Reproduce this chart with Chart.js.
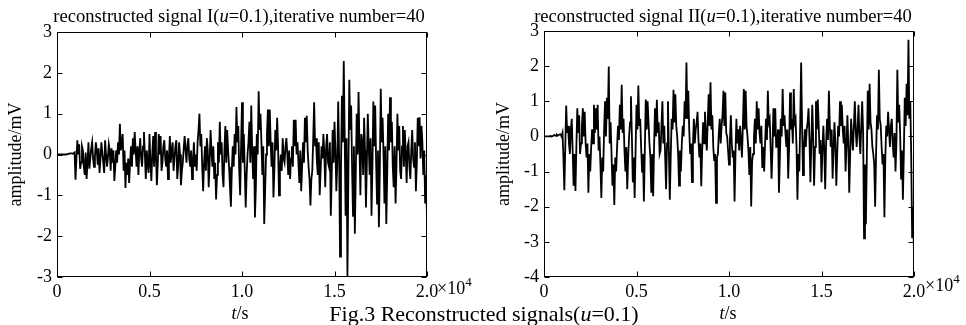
<!DOCTYPE html>
<html><head><meta charset="utf-8">
<script src="https://cdn.jsdelivr.net/npm/chart.js@4/dist/chart.umd.min.js"></script>
<style>
html,body{margin:0;padding:0;background:#fff;}
#wrap{position:relative;width:966px;height:325px;overflow:hidden;font-family:"Liberation Serif","Times New Roman",serif;color:#000;}
canvas{position:absolute;top:0;}
.t{position:absolute;white-space:nowrap;font-size:18.6px;line-height:18px;transform:translateX(-50%);}
.s{position:absolute;white-space:nowrap;font-size:18px;line-height:18px;}
sup{font-size:13px;vertical-align:0;position:relative;top:-8px;}
</style></head><body>
<div id="wrap">
<canvas id="c1" width="480" height="325" style="left:0"></canvas>
<canvas id="c2" width="483" height="325" style="left:483px"></canvas>
<div class="t" style="left:239px;top:7px">reconstructed signal I(<i>u</i>=0.1),iterative number=40</div>
<div class="t" style="left:723px;top:7px">reconstructed signal II(<i>u</i>=0.1),iterative number=40</div>
<div class="s" style="left:437px;top:279px">×10<sup>4</sup></div>
<div class="s" style="left:925px;top:276px">×10<sup>4</sup></div>
<div class="t" style="left:240px;top:304px;font-size:18px"><i>t</i>/s</div>
<div class="t" style="left:728px;top:304px;font-size:18px"><i>t</i>/s</div>
<div class="t" style="left:484px;top:303px;font-size:22px;line-height:22px">Fig.3 Reconstructed signals(<i>u</i>=0.1)</div>
</div>
<script>
// time step between samples (s)
const timeStep = 50;
const xTicks = [0, 5000, 10000, 15000, 20000];
const xTickLabels = ['0', '0.5', '1.0', '1.5', '2.0'];
const yTicksI = [-3, -2, -1, 0, 1, 2, 3];
const yTicksII = [-4, -3, -2, -1, 0, 1, 2, 3];

// reconstructed signal I (amplitude, mV), one value per 50 s
const signalI = [
 0,0,0,0,0,0,0,0,0,0,0,0.01,0.01,0.02,0.02,0.03,0.03,0.02,0.03,0.05,
 -0.62,-0.1,0.35,0.0,0.25,-0.35,-0.2,0.2,0.1,-0.3,-0.5,0.05,-0.6,-0.2,0.3,-0.35,-0.1,0.15,0.3,-0.1,
 -0.3,-0.05,0.3,0.1,-0.25,0.15,-0.45,-0.1,0.3,0.05,-0.2,-0.45,0.35,0.0,-0.3,-0.1,0.25,0.1,-0.4,0.15,
 -0.2,0.1,-0.65,-0.3,0.1,-0.2,0.3,0.0,0.75,0.1,0.3,0.5,-0.4,0.1,-0.82,-0.2,-0.5,-0.1,-0.7,-0.2,
 0.2,-0.3,0.4,0.0,0.55,0.1,-0.3,0.2,-0.5,0.1,0.4,-0.1,-0.3,0.2,0.55,0.0,-0.6,0.1,-0.2,-0.45,
 0.5,-0.2,-0.65,0.0,0.45,-0.3,0.55,0.0,-0.75,-0.2,0.5,0.0,0.45,-0.4,-0.2,0.2,0.35,-0.1,-0.3,0.1,
 -0.6,-0.1,0.45,-0.2,0.1,0.3,-0.4,-0.1,0.2,0.35,-0.6,-0.3,0.3,0.0,-0.75,-0.4,-0.2,0.15,0.45,0.1,
 -0.2,0.25,0.4,-0.1,-0.3,0.1,-0.6,-0.2,0.3,-0.3,0.0,-0.4,0.3,0.6,1.0,0.2,0.5,-0.3,-0.9,-0.2,
 0.2,-0.4,0.4,0.1,-0.8,-0.2,0.6,0.1,-0.3,0.2,-0.6,-0.2,-1.1,-0.5,0.3,-0.2,0.8,0.0,0.3,-0.5,
 -0.8,0.1,0.7,-0.2,0.6,0.1,-0.3,-0.8,-1.28,-0.4,0.2,-0.3,0.5,0.0,1.16,0.3,0.7,-0.4,-1.0,0.2,
 1.28,-0.2,0.5,-0.4,-1.3,-0.5,0.0,0.3,0.8,-0.2,1.2,0.1,-0.6,0.2,-1.54,-0.8,0.5,0.0,1.55,0.6,
 1.0,0.3,-0.5,0.2,-1.7,-0.9,0.0,0.5,1.1,0.2,1.1,0.3,-0.3,0.3,-1.05,-0.4,0.6,0.1,0.9,0.2,
 -1.0,-0.3,0.0,-0.4,0.4,-0.1,-0.2,0.2,0.4,0.0,-0.5,0.1,-0.6,-0.1,0.2,-0.3,0.85,0.2,0.85,0.0,
 0.3,-0.2,-0.7,0.1,-0.9,-0.3,0.3,-0.2,0.9,0.3,0.95,0.1,-0.3,-0.6,-1.25,-0.6,-0.4,0.4,1.28,0.2,
 0.4,-0.2,-0.5,0.3,-1.0,-0.4,0.2,-0.1,0.5,0.0,-0.8,0.2,0.5,-0.2,-0.3,0.3,-1.5,-0.5,0.6,-0.2,
 0.8,0.1,-0.9,-0.2,1.3,0.0,-2.5,-0.4,1.44,0.3,2.29,0.5,-1.5,0.4,-3.0,-0.5,1.83,0.6,1.2,-0.3,
 -1.5,0.2,-1.94,-0.5,1.0,0.0,1.53,0.2,-1.0,0.5,0.3,-0.5,0.9,0.1,-1.3,-0.2,1.0,0.2,-0.5,0.4,
 -1.5,-0.3,1.3,0.2,1.2,-0.2,-1.2,0.1,-1.78,-0.4,1.61,0.3,0.9,0.0,-1.2,0.2,-1.7,-0.5,1.0,0.1,
 1.4,0.3,0.8,-0.3,-0.8,0.2,-1.2,-0.3,1.0,0.1,0.7,-0.4,-0.6,0.2,0.7,-0.3,0.6,0.0,-0.7,0.2,
 0.3,-0.3,-0.6,0.1,0.6,-0.1,-0.3,0.3,-0.9,-0.2,0.9,0.2,0.91,-0.1,0.7,0.3,-0.5,0.1,-1.2,-0.5,
 -1.6
];

// reconstructed signal II (amplitude, mV), one value per 50 s
const signalII = [
 0,0,0,0,0,0,0,0.01,0,0.01,0.02,0.04,0.03,0.02,0.05,0.03,0.04,0.06,0.06,0.0,
 0.1,-0.6,-1.53,-0.3,0.88,0.1,0.3,-0.2,-0.5,0.2,0.5,-0.4,-1.4,-0.5,-1.55,-0.3,0.8,0.1,0.6,-0.5,
 -0.2,0.3,0.8,0.0,0.7,-0.2,-0.6,-0.2,-1.6,-0.5,-1.0,-0.3,0.2,-0.2,0.9,0.1,0.8,0.2,0.9,-0.4,
 0.0,-0.8,-1.75,-0.6,-1.0,0.2,1.0,0.0,1.1,0.5,1.99,-0.2,0.4,-0.5,-1.4,-0.8,-1.95,-0.6,-1.0,-0.3,
 0.3,-0.1,0.9,0.2,1.47,0.1,0.5,-0.4,-1.0,-0.3,-1.5,-0.6,0.0,0.4,1.14,0.0,-1.3,-0.6,-1.75,-0.4,
 0.9,0.2,1.45,0.3,0.5,-0.3,-1.0,-0.5,-1.85,-0.4,1.05,0.2,1.0,0.4,-0.2,-0.6,-1.6,-0.5,-1.7,-0.3,
 0.8,0.0,1.04,0.1,0.4,-0.5,-0.4,0.3,1.0,-0.2,0.3,-0.6,-1.5,-0.2,1.0,-0.4,-1.8,-0.6,0.5,0.2,
 1.33,0.4,1.2,0.3,0.0,-0.5,-1.4,-0.4,-1.0,-0.2,0.3,0.0,1.0,0.5,2.1,0.5,1.3,0.2,-0.5,-0.2,
 -1.3,-0.3,0.5,-0.2,0.2,0.4,0.7,-0.1,-0.6,-0.2,-1.42,-0.4,0.4,-0.2,0.7,0.1,-0.4,0.4,1.2,0.3,
 1.54,0.2,0.6,-0.3,-0.7,-0.5,-1.89,-0.6,-0.5,0.1,0.5,-0.2,0.3,0.6,1.3,0.3,1.25,0.1,0.0,-0.4,
 -0.8,-0.1,0.6,-0.2,-0.6,-0.4,-1.85,-0.5,0.5,-0.2,0.2,-0.4,0.3,-0.1,-0.6,0.3,1.35,0.2,1.3,0.3,
 0.0,-0.4,-1.1,-0.3,-1.99,-0.7,-0.5,0.0,0.5,-0.2,1.0,0.2,0.8,0.1,-0.2,0.3,-0.9,-0.3,-1.0,-0.2,
 0.5,-0.1,1.3,0.4,0.5,-0.3,-1.2,-0.4,0.8,0.0,0.8,-0.3,-0.3,0.2,-1.6,-0.6,0.5,0.0,1.35,0.3,
 0.6,0.1,-0.3,0.2,-1.2,-0.3,1.25,0.2,0.5,-0.2,1.35,0.4,0.5,-0.3,-1.8,-0.5,-1.0,0.4,2.1,0.3,
 -1.1,-0.4,0.2,-0.3,0.2,0.4,0.8,-0.1,-1.3,-0.2,0.9,0.0,-1.4,-0.3,1.0,0.2,1.05,0.3,-0.5,-0.1,
 -1.3,-0.4,0.3,-0.4,-1.5,-0.2,0.5,-0.1,1.3,0.3,-0.3,0.2,-1.2,-0.4,0.4,-0.2,-1.4,-0.5,0.3,0.0,
 1.0,0.3,0.9,0.2,-0.2,0.3,-1.0,-0.3,0.6,-0.2,-1.6,-0.5,0.5,0.0,-0.4,0.3,1.0,0.2,-0.3,0.2,
 0.9,0.0,-0.5,0.3,1.0,0.1,-2.9,-0.8,-2.5,-0.6,1.3,0.2,1.5,0.4,0.2,-0.3,-0.5,-0.8,-2.0,-0.5,
 0.6,0.2,1.9,0.5,0.3,-0.3,-0.8,-0.5,-2.3,-0.6,0.3,0.0,0.7,0.2,-0.3,0.3,0.5,-0.2,-0.6,0.1,
 -1.0,-0.2,1.9,0.4,0.9,0.1,-1.2,-0.4,-1.8,-0.5,1.1,0.3,1.5,0.6,2.75,0.5,1.0,-0.6,-2.9,-2.0,
 -3.35
];

const FONT = {family: "'Liberation Serif','Times New Roman',serif", size: 18};

const boxTicks = {
  id: 'boxTicks',
  afterDraw(chart) {
    const {ctx, chartArea: a, scales: {x, y}} = chart;
    const L = Math.round(a.left) + 0.5, R = Math.round(a.right) - 0.5;
    const T = Math.round(a.top) + 0.5, B = Math.round(a.bottom) - 0.5;
    ctx.save();
    ctx.strokeStyle = '#000';
    ctx.lineWidth = 1;
    ctx.strokeRect(L, T, R - L, B - T);
    const len = 5;
    ctx.beginPath();
    x.ticks.forEach(t => {
      const p = Math.round(x.getPixelForValue(t.value)) + 0.5;
      ctx.moveTo(p, B); ctx.lineTo(p, B - len);
      ctx.moveTo(p, T); ctx.lineTo(p, T + len);
    });
    y.ticks.forEach(t => {
      const p = Math.round(y.getPixelForValue(t.value)) + 0.5;
      ctx.moveTo(L, p); ctx.lineTo(L + len, p);
      ctx.moveTo(R, p); ctx.lineTo(R - len, p);
    });
    ctx.stroke();
    ctx.restore();
  }
};

function makeChart(id, values, yTicks, g) {
  const pts = values.map((v, i) => ({x: i * timeStep, y: v}));
  return new Chart(document.getElementById(id), {
    type: 'line',
    data: {datasets: [{data: pts, borderColor: '#000', borderWidth: 1.8, pointRadius: 0, tension: 0, fill: false}]},
    options: {
      responsive: false, animation: false, devicePixelRatio: 1,
      layout: {padding: {left: 0, top: g.top, right: g.right, bottom: 0}},
      plugins: {legend: {display: false}, tooltip: {enabled: false}},
      scales: {
        x: {
          type: 'linear', min: xTicks[0], max: xTicks[xTicks.length - 1],
          afterBuildTicks: s => { s.ticks = xTicks.map(v => ({value: v})); },
          afterFit: s => { s.height = 48; },
          grid: {display: false, drawTicks: false}, border: {display: false},
          ticks: {font: FONT, color: '#000', padding: 4, maxRotation: 0,
                  callback: v => xTickLabels[xTicks.indexOf(v)]}
        },
        y: {
          min: yTicks[0], max: yTicks[yTicks.length - 1],
          afterBuildTicks: s => { s.ticks = yTicks.map(v => ({value: v})); },
          afterFit: s => { s.width = g.yw; },
          grid: {display: false, drawTicks: false}, border: {display: false},
          ticks: {font: FONT, color: '#000', padding: 5, callback: v => String(v)},
          title: {display: true, text: 'amplitude/mV', font: FONT, color: '#000', padding: {top: g.tp, bottom: 0}}
        }
      }
    },
    plugins: [boxTicks]
  });
}

makeChart('c1', signalI, yTicksI, {top: 32, right: 53, yw: 57, tp: 5});
makeChart('c2', signalII, yTicksII, {top: 31, right: 52, yw: 61, tp: 10});
</script>
</body></html>
